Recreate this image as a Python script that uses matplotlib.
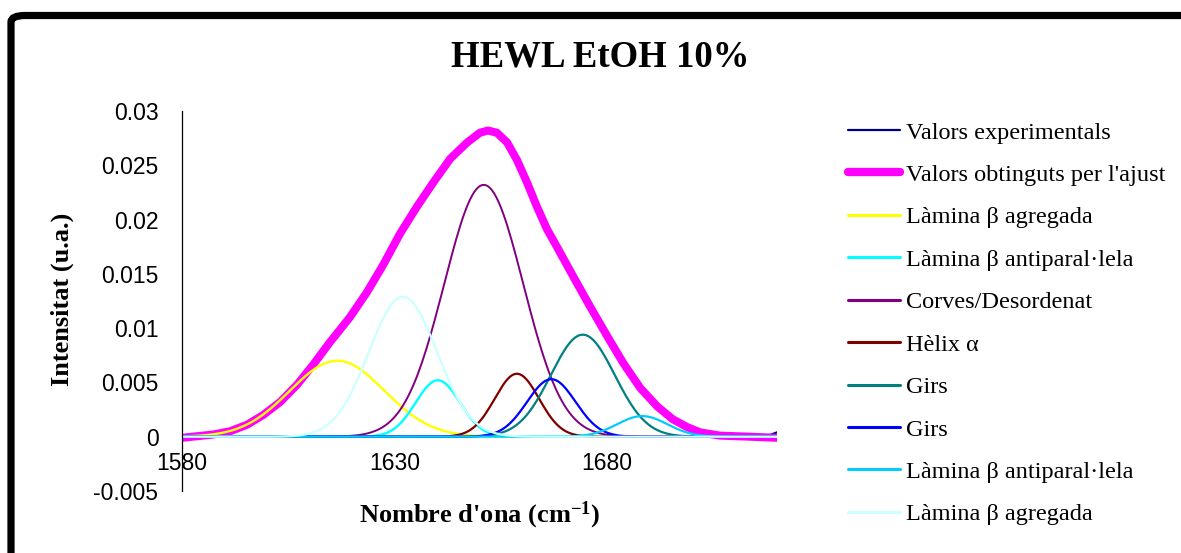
import numpy as np
import matplotlib
matplotlib.use("Agg")
import matplotlib.pyplot as plt
from matplotlib.patches import FancyBboxPatch

plt.rcParams['mathtext.fontset'] = 'custom'
plt.rcParams['mathtext.bf'] = 'Liberation Serif:bold'
plt.rcParams['mathtext.rm'] = 'Liberation Serif'

W, H = 1181, 553

# fitted envelope (cm-1, u.a.)
fit_wn = [1580, 1587.3, 1591.3, 1595.3, 1599.1, 1603.1, 1607.1, 1610.8, 1614.8, 1619.5,
          1623.5, 1627.3, 1631.3, 1635.3, 1639.1, 1643.1, 1647.1, 1650.1, 1652, 1654.1,
          1656.5, 1658.8, 1661.2, 1663.5, 1665.9, 1668.2, 1672, 1676, 1680, 1683.8,
          1687.8, 1691.8, 1695.5, 1698.8, 1701.9, 1706.6, 1713.6, 1720]
fit_val = [-0.0001, 0.0002, 0.0005, 0.0011, 0.0020, 0.0032, 0.0048, 0.0066, 0.0087, 0.0110,
           0.0133, 0.0158, 0.0187, 0.0212, 0.0234, 0.0256, 0.0271, 0.0280, 0.0282, 0.0280,
           0.0271, 0.0255, 0.0234, 0.0212, 0.0191, 0.0175, 0.0148, 0.0120, 0.0093, 0.0068,
           0.0045, 0.0028, 0.0016, 0.0009, 0.0004, 0.0001, 0.0000, -0.0001]

# measured spectrum (mostly hidden under the fit)
exp_wn = [1580, 1587.3, 1591.3, 1595.3, 1599.1, 1603.1, 1607.1, 1610.8, 1614.8, 1619.5,
          1623.5, 1627.3, 1631.3, 1635.3, 1639.1, 1643.1, 1647.1, 1650.1, 1652, 1654.1,
          1656.5, 1658.8, 1661.2, 1663.5, 1665.9, 1668.2, 1672, 1676, 1680, 1683.8,
          1687.8, 1691.8, 1695.5, 1698.8, 1701.9, 1706.6, 1713.6, 1718, 1720]
exp_val = [0.0000, 0.0002, 0.0005, 0.0011, 0.0020, 0.0032, 0.0048, 0.0066, 0.0087, 0.0110,
           0.0133, 0.0158, 0.0187, 0.0212, 0.0234, 0.0256, 0.0271, 0.0280, 0.0282, 0.0280,
           0.0271, 0.0255, 0.0234, 0.0212, 0.0191, 0.0175, 0.0148, 0.0120, 0.0093, 0.0068,
           0.0045, 0.0028, 0.0016, 0.0009, 0.0004, 0.0001, 0.0000, 0.0001, 0.0004]

# gaussian bands of the deconvolution
band_names = ["Làmina β agregada", "Làmina β antiparal·lela", "Corves/Desordenat",
              "Hèlix α", "Girs", "Girs", "Làmina β antiparal·lela", "Làmina β agregada"]
band_center = [1616.5, 1640.2, 1651.0, 1658.8, 1674.3, 1666.9, 1688.3, 1632.0]
band_height = [0.0070, 0.0052, 0.0232, 0.0058, 0.0094, 0.0053, 0.0019, 0.0129]
band_sigma = [11.1, 5.2, 9.3, 5.2, 7.5, 5.7, 5.9, 8.0]
band_color = ['#FFFF00', '#00FFFF', '#800080', '#800000', '#008080', '#0000FF',
              '#00CCFF', '#CCFFFF']
band_lw = [1.7, 1.7, 1.4, 1.6, 1.6, 1.6, 1.6, 1.6]

xticks = [1580, 1630, 1680]
yticks = [-0.005, 0, 0.005, 0.01, 0.015, 0.02, 0.025, 0.03]
ytick_labels = ["-0.005", "0", "0.005", "0.01", "0.015", "0.02", "0.025", "0.03"]

fig = plt.figure(figsize=(W / 100, H / 100), dpi=100)

# outer chart frame
frame = FancyBboxPatch((11 / W, -0.2), 1.2, 1.2 - 15.5 / H,
                       boxstyle="round,pad=0,rounding_size=0.012",
                       transform=fig.transFigure, facecolor='none',
                       edgecolor='black', linewidth=5.2, zorder=0)
fig.patches.append(frame)

ax = fig.add_axes([182 / W, 1 - 491 / H, (777 - 182) / W, (491 - 111) / H])

wn = np.arange(1580, 1720.5, 0.5)

lines = []
l, = ax.plot(exp_wn, exp_val, color='#000080', lw=1.6, label="Valors experimentals")
lines.append(l)
l, = ax.plot(fit_wn, fit_val, color='#FF00FF', lw=5.8, solid_joinstyle='round',
             label="Valors obtinguts per l'ajust")
lines.append(l)
for name, c, h, s, col, lw in zip(band_names, band_center, band_height, band_sigma,
                                  band_color, band_lw):
    y = h * np.exp(-(wn - c) ** 2 / (2 * s ** 2))
    l, = ax.plot(wn, y, color=col, lw=lw, label=name)
    lines.append(l)

ax.set_xlim(1580, 1720)
ax.set_ylim(-0.005, 0.03)
ax.set_xticks(xticks)
ax.set_xticklabels([str(t) for t in xticks])
ax.set_yticks(yticks)
ax.set_yticklabels(ytick_labels)

for side in ['top', 'right']:
    ax.spines[side].set_visible(False)
ax.spines['bottom'].set_position(('data', 0))
ax.spines['bottom'].set_color('none')
ax.spines['left'].set_linewidth(0.9)
ax.tick_params(axis='both', length=0, labelsize=16.5)
ax.tick_params(axis='x', pad=11)
ax.tick_params(axis='y', pad=17)
for t in ax.get_xticklabels() + ax.get_yticklabels():
    t.set_family('Liberation Sans')

serif = 'Liberation Serif'
fig.text(600 / W, 1 - 57 / H, "HEWL EtOH 10%", ha='center', va='center',
         fontsize=26.5, fontweight='bold', family=serif)
fig.text(480 / W, 1 - 515 / H, r"Nombre d'ona (cm$\mathbf{^{-1}}$)", ha='center',
         va='center', fontsize=19, fontweight='bold', family=serif)
fig.text(62 / W, 1 - 299 / H, "Intensitat (u.a.)", ha='center', va='center',
         rotation=90, fontsize=19, fontweight='bold', family=serif)

leg = fig.legend(handles=lines, loc='upper left', bbox_to_anchor=(848 / W, 1 - 121.5 / H),
                 frameon=False, prop={'family': serif, 'size': 17.5},
                 handlelength=2.15, handletextpad=0.25, labelspacing=0.84,
                 borderpad=0, borderaxespad=0)
for lh in leg.get_lines():
    lh.set_solid_capstyle('round')
leg.get_lines()[1].set_linewidth(6)
for lh in leg.get_lines()[2:]:
    lh.set_linewidth(2.2)

fig.savefig("out.png", dpi=100)
